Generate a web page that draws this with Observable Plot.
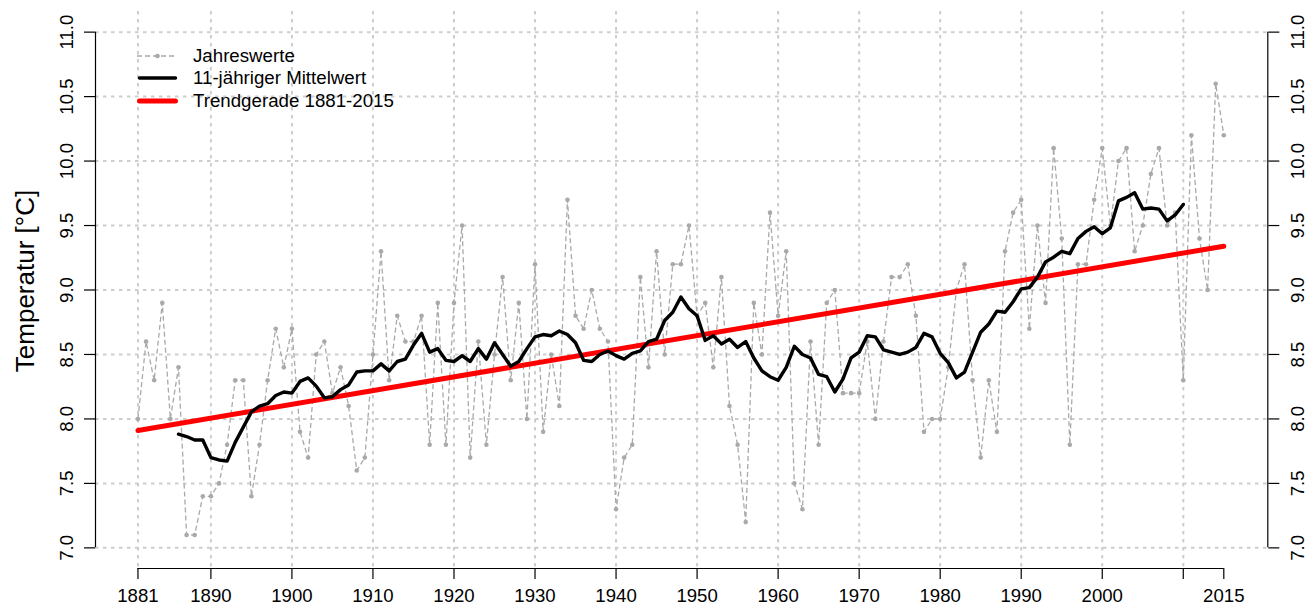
<!DOCTYPE html>
<html>
<head>
<meta charset="utf-8">
<script src="https://cdn.jsdelivr.net/npm/d3@7"></script>
<script src="https://cdn.jsdelivr.net/npm/@observablehq/plot@0.6"></script>
<style>
  html, body { margin: 0; padding: 0; background: #ffffff; }
  #wrap { position: relative; width: 1314px; height: 605px; overflow: hidden; font-family: "Liberation Sans", Arial, sans-serif; }
  #ytitle { position: absolute; left: 25px; top: 281px; transform: translate(-50%, -50%) rotate(-90deg); white-space: nowrap; font-size: 26px; color: #000; }
  .lg-row { position: absolute; left: 137px; height: 24px; line-height: 24px; font-size: 18.7px; color: #000; white-space: nowrap; }
  .lg-row svg { position: absolute; left: 0; top: 0; }
  .lg-row span { position: absolute; left: 56px; top: 0; }
</style>
</head>
<body>
<div id="wrap"></div>
<script>
// ---- data ----
const firstYear = 1881;
const annualTemps = [
  8.0, 8.6, 8.3, 8.9, 8.0, 8.4, 7.1, 7.1, 7.4, 7.4,   // 1881-1890
  7.5, 7.8, 8.3, 8.3, 7.4, 7.8, 8.3, 8.7, 8.4, 8.7,   // 1891-1900
  7.9, 7.7, 8.5, 8.6, 8.2, 8.4, 8.1, 7.6, 7.7, 8.5,   // 1901-1910
  9.3, 8.3, 8.8, 8.6, 8.6, 8.8, 7.8, 8.9, 7.8, 8.9,   // 1911-1920
  9.5, 7.7, 8.6, 7.8, 8.5, 9.1, 8.3, 8.9, 8.0, 9.2,   // 1921-1930
  7.9, 8.5, 8.1, 9.7, 8.8, 8.7, 9.0, 8.7, 8.6, 7.3,   // 1931-1940
  7.7, 7.8, 9.1, 8.4, 9.3, 8.5, 9.2, 9.2, 9.5, 8.8,   // 1941-1950
  8.9, 8.4, 9.1, 8.1, 7.8, 7.2, 8.9, 8.5, 9.6, 8.8,   // 1951-1960
  9.3, 7.5, 7.3, 8.6, 7.8, 8.9, 9.0, 8.2, 8.2, 8.2,   // 1961-1970
  8.6, 8.0, 8.6, 9.1, 9.1, 9.2, 8.8, 7.9, 8.0, 8.0,   // 1971-1980
  8.4, 9.0, 9.2, 8.3, 7.7, 8.3, 7.9, 9.3, 9.6, 9.7,   // 1981-1990
  8.7, 9.5, 8.9, 10.1, 9.4, 7.8, 9.2, 9.2, 9.7, 10.1, // 1991-2000
  9.5, 10.0, 10.1, 9.3, 9.5, 9.9, 10.1, 9.5, 9.6, 8.3, // 2001-2010
  10.2, 9.4, 9.0, 10.6, 10.2                          // 2011-2015
];
const trendYears = [1881, 2015];
const trendValues = [7.91, 9.34];
const xTickYears = [1881, 1890, 1900, 1910, 1920, 1930, 1940, 1950, 1960, 1970, 1980, 1990, 2000, 2010, 2015];
const xGridYears = [1881, 1890, 1900, 1910, 1920, 1930, 1940, 1950, 1960, 1970, 1980, 1990, 2000, 2010];
const xUnlabeled = [2010];
const yTicks = [7.0, 7.5, 8.0, 8.5, 9.0, 9.5, 10.0, 10.5, 11.0];
const windowYears = 11;
const yTitle = "Temperatur [°C]";
const legendLabels = ["Jahreswerte", "11-jähriger Mittelwert", "Trendgerade 1881-2015"];

// ---- tables ----
const annual = annualTemps.map((v, i) => ({year: firstYear + i, value: v}));
const trend = trendYears.map((y, i) => ({year: y, value: trendValues[i]}));

const gray = "#a9a9a9";
const gridColor = "#cdcdcd";
const xDomain = [1875.76, 2020.43];
const yDomain = [6.84, 11.16];
const fs = 18.6;

const chart = Plot.plot({
  width: 1314,
  height: 605,
  marginLeft: 95,
  marginRight: 46.7,
  marginTop: 11,
  marginBottom: 37,
  style: {fontFamily: "'Liberation Sans', Arial, sans-serif", fontSize: fs + "px", background: "#ffffff", color: "#000"},
  x: {domain: xDomain},
  y: {domain: yDomain},
  marks: [
    Plot.gridY({ticks: yTicks, stroke: gridColor, strokeOpacity: 1, strokeWidth: 2, strokeDasharray: "3.5,4.5"}),
    Plot.gridX({ticks: xGridYears, stroke: gridColor, strokeOpacity: 1, strokeWidth: 2, strokeDasharray: "3.5,4.5"}),
    // axis lines
    Plot.ruleY([yDomain[0]], {x1: xTickYears[0], x2: xTickYears[xTickYears.length - 1], stroke: "#000", strokeWidth: 1.2}),
    Plot.ruleX([xDomain[0]], {y1: yTicks[0], y2: yTicks[yTicks.length - 1], stroke: "#000", strokeWidth: 1.2}),
    Plot.ruleX([xDomain[1]], {y1: yTicks[0], y2: yTicks[yTicks.length - 1], stroke: "#000", strokeWidth: 1.2}),
    Plot.axisX({ticks: xTickYears, tickFormat: d => xUnlabeled.includes(d) ? "" : String(d), tickSize: 11, tickPadding: 9, fontSize: fs, label: null, strokeWidth: 1.2}),
    Plot.axisY({anchor: "left", ticks: yTicks, tickFormat: d3.format(".1f"), tickSize: 11, tickPadding: 12, tickRotate: -90, textAnchor: "middle", lineAnchor: "bottom", fontSize: fs, label: null, strokeWidth: 1.2}),
    Plot.axisY({anchor: "right", ticks: yTicks, tickFormat: d3.format(".1f"), tickSize: 11, tickPadding: 11.7, tickRotate: -90, textAnchor: "middle", lineAnchor: "top", fontSize: fs, label: null, strokeWidth: 1.2}),
    // annual values
    Plot.line(annual, {x: "year", y: "value", stroke: gray, strokeWidth: 1.3, strokeDasharray: "5,3", strokeLinecap: "butt"}),
    Plot.dot(annual, {x: "year", y: "value", fill: gray, r: 2.3, stroke: "none"}),
    // trend
    Plot.line(trend, {x: "year", y: "value", stroke: "#ff0000", strokeWidth: 5}),
    // 11-year moving mean
    Plot.lineY(annual, Plot.windowY({k: windowYears, anchor: "middle", reduce: "mean", strict: true}, {x: "year", y: "value", stroke: "#000", strokeWidth: 3.4}))
  ]
});

const wrap = document.getElementById("wrap");
wrap.appendChild(chart);

// y title
const yt = document.createElement("div");
yt.id = "ytitle";
yt.textContent = yTitle;
wrap.appendChild(yt);

// legend
const legendStyles = [
  {stroke: gray, width: 1.3, dash: "5,3", dot: true},
  {stroke: "#000", width: 3.4},
  {stroke: "#ff0000", width: 5}
];
const rowCenters = [55.7, 78.3, 100.7];
legendLabels.forEach((lab, i) => {
  const st = legendStyles[i];
  const row = document.createElement("div");
  row.className = "lg-row";
  row.style.top = (rowCenters[i] - 12) + "px";
  const ns = "http://www.w3.org/2000/svg";
  const svg = document.createElementNS(ns, "svg");
  svg.setAttribute("width", 44);
  svg.setAttribute("height", 24);
  const ln = document.createElementNS(ns, "line");
  ln.setAttribute("x1", st.dot ? 0 : 2.5);
  ln.setAttribute("x2", st.dot ? 40 : 38.5);
  ln.setAttribute("y1", 12);
  ln.setAttribute("y2", 12);
  ln.setAttribute("stroke", st.stroke);
  ln.setAttribute("stroke-width", st.width);
  ln.setAttribute("stroke-linecap", st.dot ? "butt" : "round");
  if (st.dash) ln.setAttribute("stroke-dasharray", st.dash);
  svg.appendChild(ln);
  if (st.dot) {
    const c = document.createElementNS(ns, "circle");
    c.setAttribute("cx", 20.5);
    c.setAttribute("cy", 12);
    c.setAttribute("r", 2.3);
    c.setAttribute("fill", st.stroke);
    svg.appendChild(c);
  }
  row.appendChild(svg);
  const sp = document.createElement("span");
  sp.textContent = lab;
  row.appendChild(sp);
  wrap.appendChild(row);
});
</script>
</body>
</html>
